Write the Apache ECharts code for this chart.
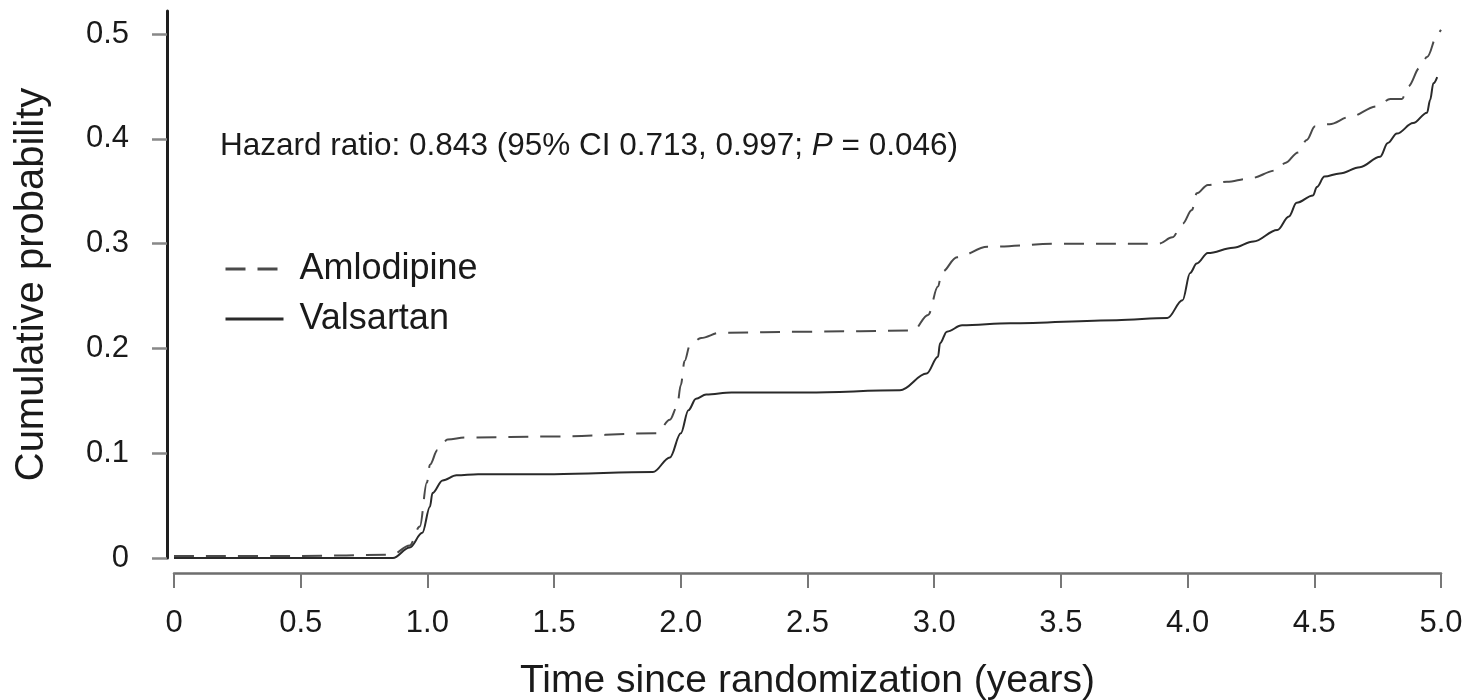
<!DOCTYPE html>
<html>
<head>
<meta charset="utf-8">
<title>Cumulative probability: Amlodipine vs Valsartan</title>
<script src="https://cdn.jsdelivr.net/npm/echarts@6/dist/echarts.min.js"></script>
<style>
  html, body { margin: 0; padding: 0; background: #fff; }
  #chart { width: 1469px; height: 700px; }
</style>
</head>
<body>
<div id="chart"></div>
<script>
// Time since randomization (years) and cumulative event probability per arm
const amlodipineT = [0, 0.5, 0.86, 0.93, 0.97, 0.998, 1.01, 1.04, 1.08, 1.15, 1.5, 1.906, 1.957, 1.985, 2.0, 2.015, 2.036, 2.08, 2.155, 2.5, 2.917, 2.976, 3.015, 3.03, 3.09, 3.21, 3.5, 3.887, 3.94, 3.98, 4.017, 4.036, 4.08, 4.155, 4.24, 4.354, 4.385, 4.436, 4.47, 4.503, 4.56, 4.64, 4.747, 4.8, 4.846, 4.87, 4.917, 4.945, 4.988, 5.0];
const amlodipineP = [0.002, 0.002, 0.003, 0.012, 0.03, 0.072, 0.089, 0.103, 0.113, 0.115, 0.116, 0.119, 0.132, 0.144, 0.165, 0.188, 0.203, 0.21, 0.215, 0.216, 0.217, 0.232, 0.259, 0.273, 0.287, 0.297, 0.3, 0.3, 0.306, 0.319, 0.332, 0.348, 0.356, 0.359, 0.362, 0.37, 0.377, 0.387, 0.399, 0.412, 0.414, 0.421, 0.431, 0.438, 0.438, 0.45, 0.468, 0.478, 0.501, 0.504];

const valsartanT = [0, 0.5, 0.864, 0.93, 0.98, 1.01, 1.02, 1.06, 1.115, 1.2, 1.5, 1.89, 1.957, 2.0, 2.03, 2.06, 2.1, 2.2, 2.5, 2.865, 2.97, 3.015, 3.023, 3.05, 3.11, 3.3, 3.72, 3.92, 3.98, 4.01, 4.036, 4.08, 4.18, 4.26, 4.354, 4.40, 4.43, 4.495, 4.51, 4.54, 4.6, 4.68, 4.76, 4.79, 4.826, 4.89, 4.945, 4.957, 4.97, 4.985];
const valsartanP = [0, 0, 0, 0.01, 0.024, 0.049, 0.062, 0.074, 0.079, 0.08, 0.08, 0.082, 0.096, 0.119, 0.141, 0.152, 0.156, 0.158, 0.158, 0.16, 0.176, 0.192, 0.205, 0.216, 0.222, 0.224, 0.227, 0.229, 0.246, 0.272, 0.281, 0.291, 0.296, 0.302, 0.313, 0.326, 0.339, 0.346, 0.354, 0.364, 0.367, 0.373, 0.383, 0.396, 0.405, 0.415, 0.425, 0.437, 0.453, 0.459];

const xTicks = [0, 0.5, 1, 1.5, 2, 2.5, 3, 3.5, 4, 4.5, 5];
const yTicks = [0, 0.1, 0.2, 0.3, 0.4, 0.5];

const seriesNames = ['Amlodipine', 'Valsartan'];
const hazardText = 'Hazard ratio: 0.843 (95% CI 0.713, 0.997; {i|P} = 0.046)';
const xTitle = 'Time since randomization (years)';
const yTitle = 'Cumulative probability';

const pairs = (ts, ps) => ts.map((t, i) => [t, ps[i]]);
const fmt = v => (v === 0 ? '0' : v.toFixed(1));
const FONT = '"Liberation Sans", Arial, Helvetica, sans-serif';

const chart = echarts.init(document.getElementById('chart'), null, { renderer: 'canvas' });

chart.setOption({
  animation: false,
  backgroundColor: '#ffffff',
  textStyle: { fontFamily: FONT },
  grid: { left: 174, right: 28, top: 11, bottom: 142, containLabel: false, outerBoundsMode: 'none' },
  xAxis: {
    type: 'value',
    min: 0,
    max: 5,
    interval: 0.5,
    offset: 15,
    name: xTitle,
    nameLocation: 'middle',
    nameGap: 89,
    nameTextStyle: { fontSize: 39, color: '#1a1a1a', fontFamily: FONT },
    axisLine: { show: true, onZero: false, lineStyle: { color: '#6e6e6e', width: 2.5 } },
    axisTick: { show: true, length: 15, lineStyle: { color: '#777', width: 2 }, customValues: xTicks },
    axisLabel: { fontSize: 31, color: '#1a1a1a', margin: 35, formatter: fmt, customValues: xTicks, fontFamily: FONT },
    splitLine: { show: false }
  },
  yAxis: {
    type: 'value',
    min: 0,
    max: 0.522,
    interval: 0.1,
    offset: 7,
    name: yTitle,
    nameLocation: 'middle',
    nameGap: 115,
    nameTextStyle: { fontSize: 40, color: '#1a1a1a', fontFamily: FONT },
    axisLine: { show: true, onZero: false, lineStyle: { color: '#1e1e1e', width: 3 } },
    axisTick: { show: true, length: 15, lineStyle: { color: '#888', width: 2.5 }, customValues: yTicks },
    axisLabel: { fontSize: 31, color: '#1a1a1a', margin: 38, formatter: fmt, customValues: yTicks, fontFamily: FONT },
    splitLine: { show: false }
  },
  legend: {
    orient: 'vertical',
    left: 219,
    top: 246,
    itemWidth: 58,
    itemHeight: 14,
    itemGap: 14,
    itemStyle: { opacity: 0 },
    lineStyle: { width: 3 },
    textStyle: { fontSize: 36, color: '#1a1a1a', padding: [0, 0, 0, 11], lineHeight: 36, fontFamily: FONT },
    data: seriesNames
  },
  graphic: [{
    type: 'text',
    left: 220,
    top: 130,
    style: {
      text: hazardText,
      fontSize: 31.5,
      fontFamily: FONT,
      fill: '#1a1a1a',
      rich: {
        i: { fontSize: 31.5, fontStyle: 'italic', fontFamily: FONT, fill: '#1a1a1a' }
      }
    }
  }],
  series: [
    {
      name: seriesNames[0],
      type: 'line',
      data: pairs(amlodipineT, amlodipineP),
      showSymbol: false,
      symbol: 'none',
      smooth: 0.35,
      smoothMonotone: 'x',
      clip: false,
      lineStyle: { color: '#4a4a4a', width: 2, type: [20, 12] },
      itemStyle: { color: '#4a4a4a' }
    },
    {
      name: seriesNames[1],
      type: 'line',
      data: pairs(valsartanT, valsartanP),
      showSymbol: false,
      symbol: 'none',
      smooth: 0.35,
      smoothMonotone: 'x',
      clip: false,
      lineStyle: { color: '#2a2a2a', width: 2, type: 'solid' },
      itemStyle: { color: '#2a2a2a' }
    }
  ]
});
</script>
</body>
</html>
